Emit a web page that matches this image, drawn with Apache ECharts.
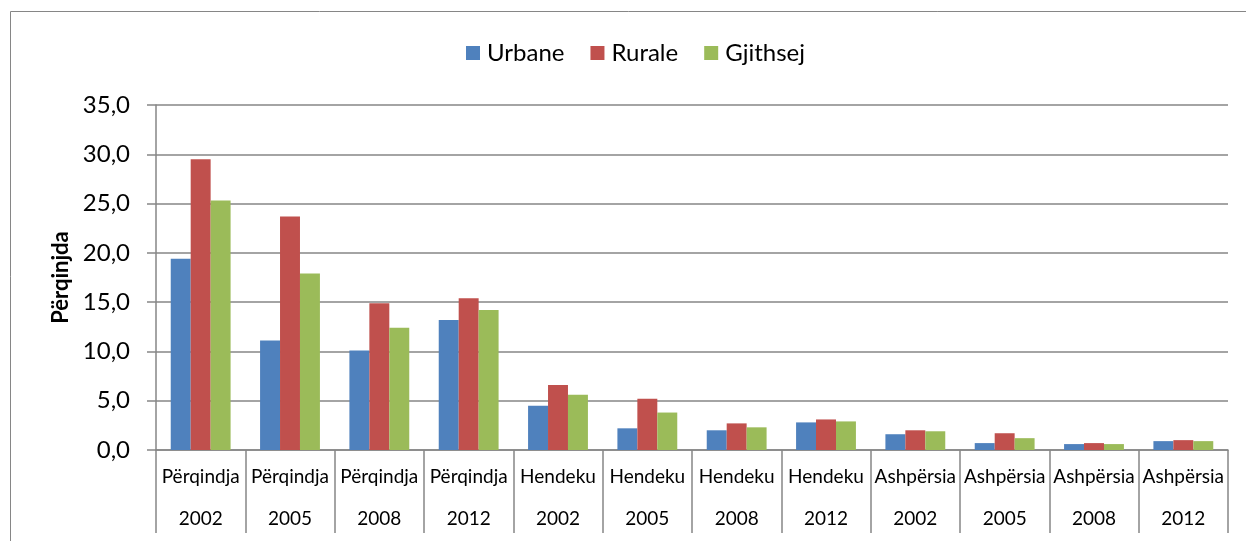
<!DOCTYPE html>
<html>
<head>
<meta charset="utf-8">
<script src="https://cdn.jsdelivr.net/npm/echarts@6/dist/echarts.min.js"></script>
<style>
  html, body { margin: 0; padding: 0; background: #fff; }
  #chart { width: 1246px; height: 541px; }
</style>
</head>
<body>
<div id="chart"></div>
<script>
  const indicators = ['Përqindja', 'Përqindja', 'Përqindja', 'Përqindja',
    'Hendeku', 'Hendeku', 'Hendeku', 'Hendeku',
    'Ashpërsia', 'Ashpërsia', 'Ashpërsia', 'Ashpërsia'];
  const years = ['2002', '2005', '2008', '2012', '2002', '2005', '2008', '2012', '2002', '2005', '2008', '2012'];
  const urbane = [19.4, 11.1, 10.1, 13.2, 4.5, 2.2, 2.0, 2.8, 1.6, 0.7, 0.6, 0.9];
  const rurale = [29.5, 23.7, 14.9, 15.4, 6.6, 5.2, 2.7, 3.1, 2.0, 1.7, 0.7, 1.0];
  const gjithsej = [25.3, 17.9, 12.4, 14.2, 5.6, 3.8, 2.3, 2.9, 1.9, 1.2, 0.6, 0.9];

  const categories = indicators.map((name, i) => name + '\n' + years[i]);
  const font = 'Lato, "Open Sans", sans-serif';
  const grey = '#868686';

  let mychart = echarts.init(document.getElementById('chart'));
  const option = {
    textStyle: { fontFamily: font },
    graphic: [{
      type: 'rect',
      shape: { x: 10.5, y: 11.5, width: 1300, height: 600 },
      style: { fill: 'none', stroke: grey, lineWidth: 1 },
      silent: true
    }],
    legend: {
      top: 36,
      left: 461,
      itemWidth: 14,
      itemHeight: 14,
      itemGap: 26,
      icon: 'rect',
      textStyle: { fontSize: 24, color: '#000', fontFamily: font, padding: [0, 0, 0, 2] }
    },
    grid: {
      left: 156,
      right: 18,
      top: 105,
      bottom: 91,
      containLabel: false
    },
    xAxis: {
      type: 'category',
      data: categories,
      axisLine: { lineStyle: { color: grey, width: 1.5 } },
      axisTick: { show: true, length: 83, lineStyle: { color: grey, width: 1.5 } },
      axisLabel: {
        margin: 6,
        interval: 0,
        fontSize: 19,
        color: '#000',
        formatter: function (value) {
          const parts = value.split('\n');
          return '{a|' + parts[0] + '}\n{b|' + parts[1] + '}';
        },
        rich: {
          a: { fontSize: 19, lineHeight: 42, fontFamily: font, color: '#000' },
          b: { fontSize: 19, lineHeight: 42, fontFamily: font, color: '#000' }
        }
      }
    },
    yAxis: {
      type: 'value',
      min: 0,
      max: 35,
      interval: 5,
      name: 'Përqinjda',
      nameLocation: 'middle',
      nameGap: 84,
      nameRotate: 90,
      nameTextStyle: { fontSize: 22, fontWeight: 'bold', color: '#000', fontFamily: font },
      axisLine: { show: true, lineStyle: { color: grey, width: 1.5 } },
      axisTick: { show: true, length: 9, lineStyle: { color: grey, width: 1.5 } },
      axisLabel: {
        margin: 26,
        fontSize: 24,
        color: '#000',
        formatter: function (v) { return v.toFixed(1).replace('.', ','); }
      },
      splitLine: { lineStyle: { color: grey, width: 1.5 } }
    },
    series: [
      { name: 'Urbane', type: 'bar', data: urbane, barGap: '0%', barCategoryGap: '33%',
        itemStyle: { color: '#4F81BD' } },
      { name: 'Rurale', type: 'bar', data: rurale,
        itemStyle: { color: '#C0504D' } },
      { name: 'Gjithsej', type: 'bar', data: gjithsej,
        itemStyle: { color: '#9BBB59' } }
    ]
  };
  mychart.setOption(option);
</script>
</body>
</html>
